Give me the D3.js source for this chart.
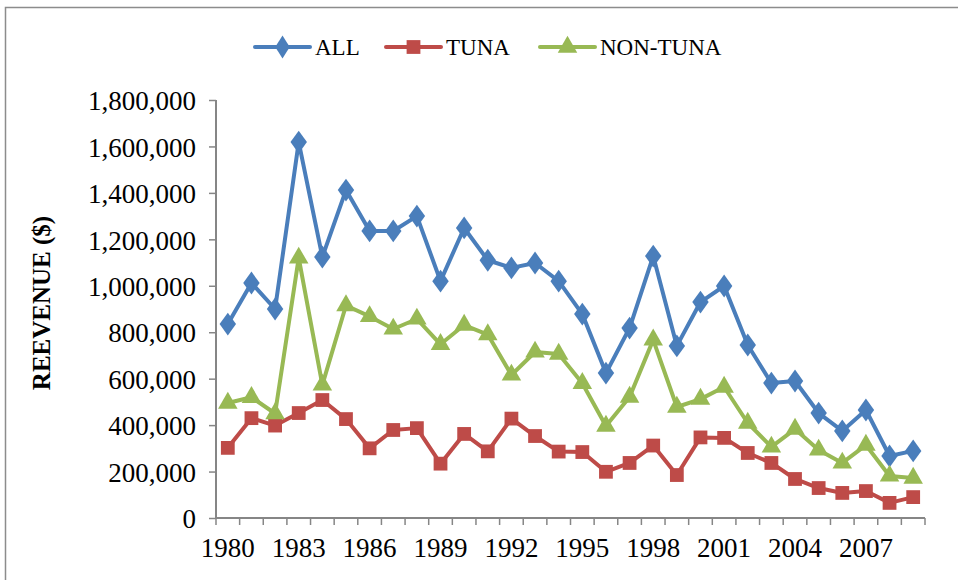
<!DOCTYPE html>
<html>
<head>
<meta charset="utf-8">
<script src="https://cdn.jsdelivr.net/npm/d3@7"></script>
<style>
  body { margin: 0; background: #fff; }
  svg { display: block; }
</style>
</head>
<body>
<div id="chart"></div>
<script>
const years = d3.range(1980, 2010);
const yTicks = [0, 200000, 400000, 600000, 800000, 1000000, 1200000, 1400000, 1600000, 1800000];

const allRevenue = [835000, 1012000, 900000, 1619000, 1124000, 1412000, 1236000, 1236000, 1300000, 1020000,
  1249000, 1110000, 1077000, 1098000, 1020000, 878000, 624000, 818000, 1128000, 741000,
  930000, 999000, 745000, 581000, 590000, 452000, 375000, 465000, 267000, 289000];
const tunaRevenue = [302000, 430000, 398000, 452000, 508000, 426000, 300000, 379000, 387000, 234000,
  362000, 287000, 428000, 353000, 286000, 284000, 199000, 237000, 312000, 185000,
  347000, 345000, 280000, 237000, 168000, 129000, 108000, 116000, 65000, 90000];
const nonTunaRevenue = [495000, 520000, 450000, 1120000, 573000, 915000, 868000, 814000, 857000, 748000,
  831000, 790000, 616000, 715000, 706000, 580000, 396000, 521000, 767000, 478000,
  512000, 564000, 409000, 306000, 383000, 293000, 237000, 314000, 181000, 172000];

const series = [
  { name: 'ALL', values: allRevenue, color: '#4A7EBB', shape: 'diamond' },
  { name: 'TUNA', values: tunaRevenue, color: '#BE4B48', shape: 'square' },
  { name: 'NON-TUNA', values: nonTunaRevenue, color: '#98B954', shape: 'triangle' }
];

const width = 958, height = 580;
const margin = { top: 100, right: 33, bottom: 62, left: 216 };
const axisColor = '#868686';
const fontFamily = '"Liberation Serif", "DejaVu Serif", serif';

const svg = d3.select('#chart').append('svg')
  .attr('width', width)
  .attr('height', height);

// outer frame
svg.append('rect')
  .attr('x', 5.5).attr('y', 7.5)
  .attr('width', width + 10).attr('height', height + 10)
  .attr('fill', 'none')
  .attr('stroke', '#8c8c8c')
  .attr('stroke-width', 1.5);

const x = d3.scaleBand().domain(years).range([margin.left, width - margin.right]).padding(0);
const y = d3.scaleLinear().domain([0, 1800000]).range([height - margin.bottom, margin.top]);

const symbolFor = {
  diamond: d3.symbol().type(d3.symbolDiamond).size(150),
  square: d3.symbol().type(d3.symbolSquare).size(190),
  triangle: d3.symbol().type(d3.symbolTriangle).size(165)
};

// y axis
const yAxis = svg.append('g')
  .attr('transform', 'translate(' + margin.left + ',0)')
  .call(d3.axisLeft(y).tickValues(yTicks).tickSize(7).tickPadding(13).tickFormat(d3.format(',')));

// x axis with ticks between categories
const xAxis = svg.append('g')
  .attr('transform', 'translate(0,' + (height - margin.bottom) + ')')
  .call(d3.axisBottom(x).tickSize(0).tickPadding(20)
    .tickFormat(d => (d - 1980) % 3 === 0 ? d : ''));

xAxis.selectAll('.boundary')
  .data(d3.range(0, years.length + 1))
  .enter().append('line')
  .attr('class', 'boundary')
  .attr('x1', i => margin.left + i * x.bandwidth())
  .attr('x2', i => margin.left + i * x.bandwidth())
  .attr('y1', 0).attr('y2', 7)
  .attr('stroke', axisColor)
  .attr('stroke-width', 1.5);

[xAxis, yAxis].forEach(a => {
  a.select('.domain').attr('stroke', axisColor).attr('stroke-width', 2);
  a.selectAll('.tick line').attr('stroke', axisColor).attr('stroke-width', 1.5);
  a.selectAll('text')
    .attr('fill', '#000')
    .style('font-family', fontFamily)
    .style('font-size', '27px');
});
xAxis.select('.domain').attr('d', 'M' + margin.left + ',0H' + (width - margin.right));
yAxis.select('.domain').attr('d', 'M0,' + y(0) + 'V' + y(1800000));
yAxis.selectAll('text').attr('dy', '0.36em');

// y label
svg.append('text')
  .attr('transform', 'translate(50,' + 303 + ') rotate(-90)')
  .attr('text-anchor', 'middle')
  .style('font-family', fontFamily)
  .style('font-size', '25px')
  .style('font-weight', 'bold')
  .text('REEVENUE ($)');

// lines
const line = d3.line()
  .x((d, i) => x(years[i]) + x.bandwidth() / 2)
  .y(d => y(d));

series.forEach(s => {
  const g = svg.append('g').attr('class', 'series');
  g.append('path')
    .attr('d', line(s.values))
    .attr('fill', 'none')
    .attr('stroke', s.color)
    .attr('stroke-width', 4)
    .attr('stroke-linejoin', 'round');
  g.selectAll('.pt')
    .data(s.values)
    .enter().append('path')
    .attr('class', 'pt')
    .attr('d', symbolFor[s.shape])
    .attr('transform', (d, i) => {
      const sx = s.shape === 'diamond' ? 'scale(1.25,1)' : '';
      return 'translate(' + (x(years[i]) + x.bandwidth() / 2) + ',' + y(d) + ')' + sx;
    })
    .attr('fill', s.color);
});

// legend
const legendX = [255, 386, 540];
const legend = svg.append('g');
series.forEach((s, i) => {
  const lg = legend.append('g').attr('transform', 'translate(' + legendX[i] + ',47)');
  lg.append('line')
    .attr('x1', 0).attr('x2', 55)
    .attr('stroke', s.color)
    .attr('stroke-width', 4)
    .attr('stroke-linecap', 'round');
  lg.append('path')
    .attr('d', symbolFor[s.shape])
    .attr('transform', 'translate(27.5,0)' + (s.shape === 'diamond' ? 'scale(1.1,1)' : ''))
    .attr('fill', s.color);
  lg.append('text')
    .attr('x', 60)
    .attr('dy', '0.35em')
    .style('font-family', fontFamily)
    .style('font-size', '23px')
    .text(s.name);
});
</script>
</body>
</html>
